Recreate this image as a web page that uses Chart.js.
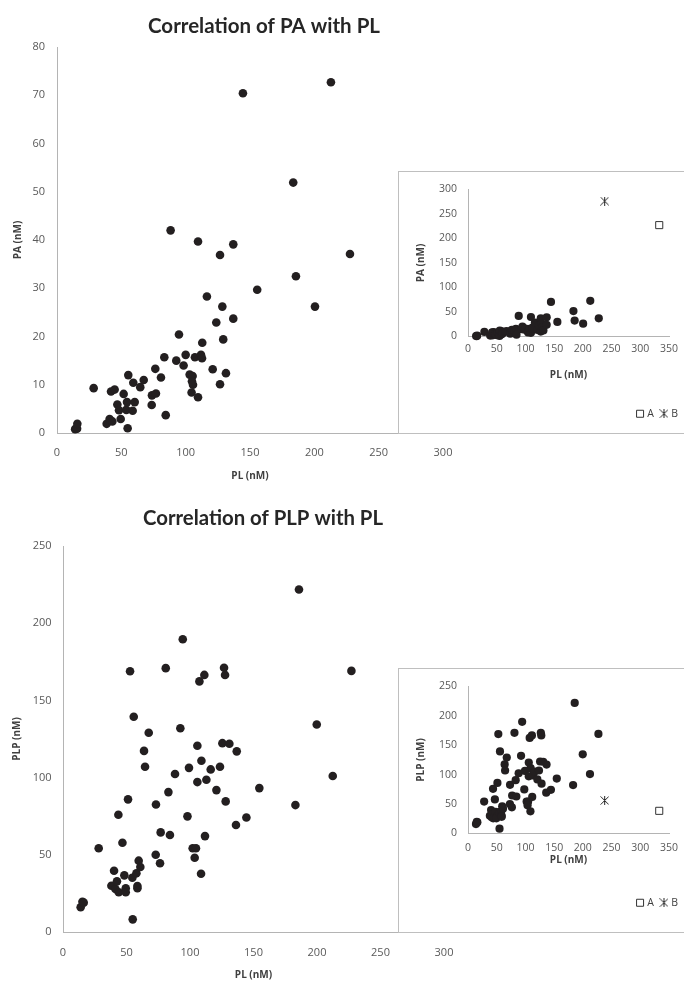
<!DOCTYPE html>
<html>
<head>
<meta charset="utf-8">
<script src="https://cdn.jsdelivr.net/npm/chart.js@4.4.1/dist/chart.umd.min.js"></script>
<style>
html,body{margin:0;padding:0;background:#fff;}
#wrap{position:relative;width:684px;height:985px;overflow:hidden;background:#fff;}
.main{position:absolute;left:0;width:684px;}
.inset{position:absolute;left:398px;width:290px;box-sizing:border-box;border:1px solid #bfbfbf;background:#fff;}
.inset canvas,.main canvas{display:block;}
</style>
</head>
<body>
<div id="wrap">
  <div class="main" style="top:0;height:494px;"><canvas id="c1"></canvas></div>
  <div class="inset" style="top:171px;height:263px;"><canvas id="c2"></canvas></div>
  <div class="main" style="top:494px;height:491px;"><canvas id="c3"></canvas></div>
  <div class="inset" style="top:668px;height:265px;"><canvas id="c4"></canvas></div>
</div>
<script>
// ---------- data ----------
const PA_PL  = [14.1,15.6,15.8,28.5,38.6,40.9,43.0,42.0,44.8,46.9,48.2,49.5,51.8,53.9,54.4,54.9,55.4,58.8,59.3,60.4,64.7,67.4,73.6,73.8,76.9,76.4,80.8,83.4,84.5,88.3,92.7,94.8,98.4,100.0,103.1,105.4,104.9,105.7,104.6,107.2,109.6,109.6,111.9,112.7,112.9,116.5,121.0,123.8,126.7,126.7,128.5,129.2,131.3,137.0,137.0,144.5,155.6,183.6,185.7,200.5,212.9,227.7];
const PA_VAL = [0.8,0.9,1.9,9.3,1.9,2.9,2.4,8.6,9.0,5.9,4.7,2.9,8.1,4.8,6.4,1.0,12.0,4.6,10.4,6.4,9.5,11.0,5.8,7.8,8.2,13.3,11.5,15.7,3.7,42.0,15.0,20.4,14.0,16.2,12.1,11.8,10.7,10.0,8.4,15.7,7.4,39.7,16.2,15.5,18.7,28.3,13.2,22.9,36.9,10.1,26.2,19.4,12.4,39.1,23.7,70.4,29.7,51.9,32.5,26.2,72.7,37.1];

const PLP_PL  = [13.9,15.3,16.3,28.1,38.1,40.2,41.3,42.5,43.9,43.6,46.8,48.3,49.4,49.4,51.2,52.8,54.6,54.9,55.7,57.8,58.6,58.6,59.6,60.9,63.8,64.6,67.5,73.0,73.2,76.4,76.9,80.9,83.0,84.2,88.2,92.4,94.3,98.0,99.2,102.1,104.7,103.7,105.8,105.8,107.4,108.7,109.0,111.3,111.8,112.9,116.3,120.8,123.6,125.5,126.8,127.6,128.1,131.0,136.8,136.2,144.4,154.6,183.0,185.8,199.8,212.4,227.1];
const PLP_VAL = [16.0,19.6,19.0,54.2,30.0,39.7,27.8,32.8,25.7,75.9,57.8,36.7,28.3,25.7,85.9,168.9,35.1,8.2,139.4,38.0,29.8,28.3,46.2,42.1,117.3,107.0,129.0,50.0,82.6,44.5,64.5,170.9,90.6,62.8,102.3,132.0,189.6,74.9,106.3,54.2,54.2,48.1,120.6,97.1,162.3,37.7,110.9,166.5,62.1,98.6,105.3,91.9,107.0,122.3,171.1,166.5,84.6,121.9,117.0,69.3,74.2,93.2,82.2,221.8,134.4,101.0,169.1];

// extra samples shown only in the insets
const SAMPLE_A_PL  = [333];
const SAMPLE_A_PA  = [227];
const SAMPLE_A_PLP = [38.5];
const SAMPLE_B_PL  = [238];
const SAMPLE_B_PA  = [276];
const SAMPLE_B_PLP = [56];

// tick labels
const MAIN_X_TICKS  = [0,50,100,150,200,250,300];
const PA_Y_TICKS    = [0,10,20,30,40,50,60,70,80];
const PLP_Y_TICKS   = [0,50,100,150,200,250];
const INSET_X_TICKS = [0,50,100,150,200,250,300,350];
const INSET_PA_Y_TICKS  = [0,50,100,150,200,250,300];
const INSET_PLP_Y_TICKS = [0,50,100,150,200,250];

// ---------- styling ----------
Chart.defaults.font.family = "'Open Sans', sans-serif";
Chart.defaults.animation = false;
const DOT = '#231f20';
const AXIS = '#b4b4b4';
const TICK = '#595959';
const TTL = '#404040';

function makeStar() {
  const c = document.createElement('canvas');
  c.width = 9; c.height = 9;
  const g = c.getContext('2d');
  g.strokeStyle = '#262626'; g.lineWidth = 1;
  g.beginPath();
  g.moveTo(0.5, 0.5); g.lineTo(8.5, 8.5);
  g.moveTo(8.5, 0.5); g.lineTo(0.5, 8.5);
  g.moveTo(4.5, 0); g.lineTo(4.5, 9);
  g.stroke();
  return c;
}
const STAR = makeStar();

const titlePlugin = {
  id: 'fixedTitle',
  afterDraw(chart, args, o) {
    if (!o || !o.text) return;
    const ctx = chart.ctx;
    ctx.save();
    ctx.font = o.font;
    ctx.fillStyle = o.color;
    ctx.textAlign = 'center';
    ctx.textBaseline = 'alphabetic';
    ctx.fillText(o.text, o.x, o.y, o.maxWidth);
    ctx.restore();
  }
};
const legendShift = {
  id: 'legendShift',
  afterLayout(chart, args, o) {
    if (chart.legend && o && o.dx) {
      chart.legend.left += o.dx;
      chart.legend.right += o.dx;
    }
  }
};

function pts(xs, ys) { return xs.map((x, i) => ({x: x, y: ys[i]})); }

function scale(c) {
  return {
    type: 'linear',
    min: c.ticks[0],
    max: c.ticks[c.ticks.length - 1],
    afterBuildTicks: s => { s.ticks = c.ticks.map(v => ({value: v})); },
    afterFit: s => { if (c.w !== undefined) s.width = c.w; if (c.h !== undefined) s.height = c.h; },
    grid: {display: false, drawTicks: false},
    border: {display: true, color: AXIS, width: 1},
    ticks: {padding: c.tickPad, color: TICK, font: {size: c.tickSize}},
    title: {display: true, text: c.title, color: TTL, font: {size: 10, weight: 'bold'}, padding: c.titlePad}
  };
}

function mainChart(id, xs, ys, c) {
  return new Chart(document.getElementById(id), {
    type: 'scatter',
    data: {datasets: [{
      data: pts(xs, ys), clip: false,
      pointRadius: 4.3, pointHoverRadius: 4.3,
      pointBackgroundColor: DOT, pointBorderColor: DOT, pointBorderWidth: 0
    }]},
    options: {
      responsive: true, maintainAspectRatio: false, animation: false,
      layout: {padding: c.padding},
      plugins: {legend: {display: false}, tooltip: {enabled: false}, fixedTitle: c.titleOpt},
      scales: {
        x: scale({ticks: MAIN_X_TICKS, h: c.xH, tickPad: c.xTickPad, tickSize: 11, title: 'PL (nM)', titlePad: {top: 0, bottom: c.xTitlePad}}),
        y: scale({ticks: c.yTicks, w: c.yW, tickPad: c.yTickPad, tickSize: 11, title: c.yTitle, titlePad: {top: c.yTitlePad, bottom: 0}})
      }
    },
    plugins: [titlePlugin]
  });
}

function insetChart(id, xs, ys, ax, ay, bx, by, c) {
  return new Chart(document.getElementById(id), {
    type: 'scatter',
    data: {datasets: [
      {label: 'main', data: pts(xs, ys), clip: false, pointRadius: 4.1, pointHoverRadius: 4.1,
       pointBackgroundColor: DOT, pointBorderColor: DOT, pointBorderWidth: 0},
      {label: 'A', data: pts(ax, ay), clip: false, pointStyle: 'rect', pointRadius: 5, pointHoverRadius: 5,
       pointBackgroundColor: '#ffffff', pointBorderColor: '#333333', pointBorderWidth: 1},
      {label: 'B', data: pts(bx, by), clip: false, pointStyle: STAR, pointRadius: 5, pointHoverRadius: 5,
       pointBackgroundColor: '#333333', pointBorderColor: '#333333', pointBorderWidth: 1}
    ]},
    options: {
      responsive: true, maintainAspectRatio: false, animation: false,
      layout: {padding: c.padding},
      plugins: {
        tooltip: {enabled: false},
        legend: {display: true, position: 'bottom', align: 'end',
          labels: {usePointStyle: true, boxWidth: 4, boxHeight: 7, padding: 8, color: TTL, font: {size: 10.5},
                   filter: it => it.datasetIndex > 0}},
        legendShift: {dx: c.legendDx}
      },
      scales: {
        x: scale({ticks: INSET_X_TICKS, h: c.xH, tickPad: c.xTickPad, tickSize: 10.5, title: 'PL (nM)', titlePad: {top: 0, bottom: c.xTitlePad}}),
        y: scale({ticks: c.yTicks, w: c.yW, tickPad: c.yTickPad, tickSize: 10.5, title: c.yTitle, titlePad: {top: c.yTitlePad, bottom: 0}})
      }
    },
    plugins: [legendShift]
  });
}

// top: PA vs PL
mainChart('c1', PA_PL, PA_VAL, {
  padding: {left: 0, right: 241, top: 47, bottom: 0},
  xH: 61, yW: 57, xTickPad: 13, yTickPad: 12, xTitlePad: 12, yTitlePad: 12.5,
  yTicks: PA_Y_TICKS, yTitle: 'PA (nM)',
  titleOpt: {text: 'Correlation of PA with PL', x: 264, y: 33, font: 'bold 21px Lato', color: '#262626', maxWidth: 232}
});
insetChart('c2', PA_PL, PA_VAL, SAMPLE_A_PL, SAMPLE_A_PA, SAMPLE_B_PL, SAMPLE_B_PA, {
  padding: {left: 0, right: 18, top: 12, bottom: 4},
  xH: 64, yW: 69, xTickPad: 6, yTickPad: 11, xTitlePad: 19, yTitlePad: 16, legendDx: 17,
  yTicks: INSET_PA_Y_TICKS, yTitle: 'PA (nM)'
});

// bottom: PLP vs PL
mainChart('c3', PLP_PL, PLP_VAL, {
  padding: {left: 0, right: 240, top: 52, bottom: 0},
  xH: 53, yW: 63, xTickPad: 14, yTickPad: 11.5, xTitlePad: 4, yTitlePad: 10.7,
  yTicks: PLP_Y_TICKS, yTitle: 'PLP (nM)',
  titleOpt: {text: 'Correlation of PLP with PL', x: 263, y: 31, font: 'bold 21px Lato', color: '#262626', maxWidth: 240}
});
insetChart('c4', PLP_PL, PLP_VAL, SAMPLE_A_PL, SAMPLE_A_PLP, SAMPLE_B_PL, SAMPLE_B_PLP, {
  padding: {left: 0, right: 18, top: 14, bottom: 14},
  xH: 56, yW: 69, xTickPad: 8, yTickPad: 11, xTitlePad: 23, yTitlePad: 16, legendDx: 17,
  yTicks: INSET_PLP_Y_TICKS, yTitle: 'PLP (nM)'
});
</script>
</body>
</html>
